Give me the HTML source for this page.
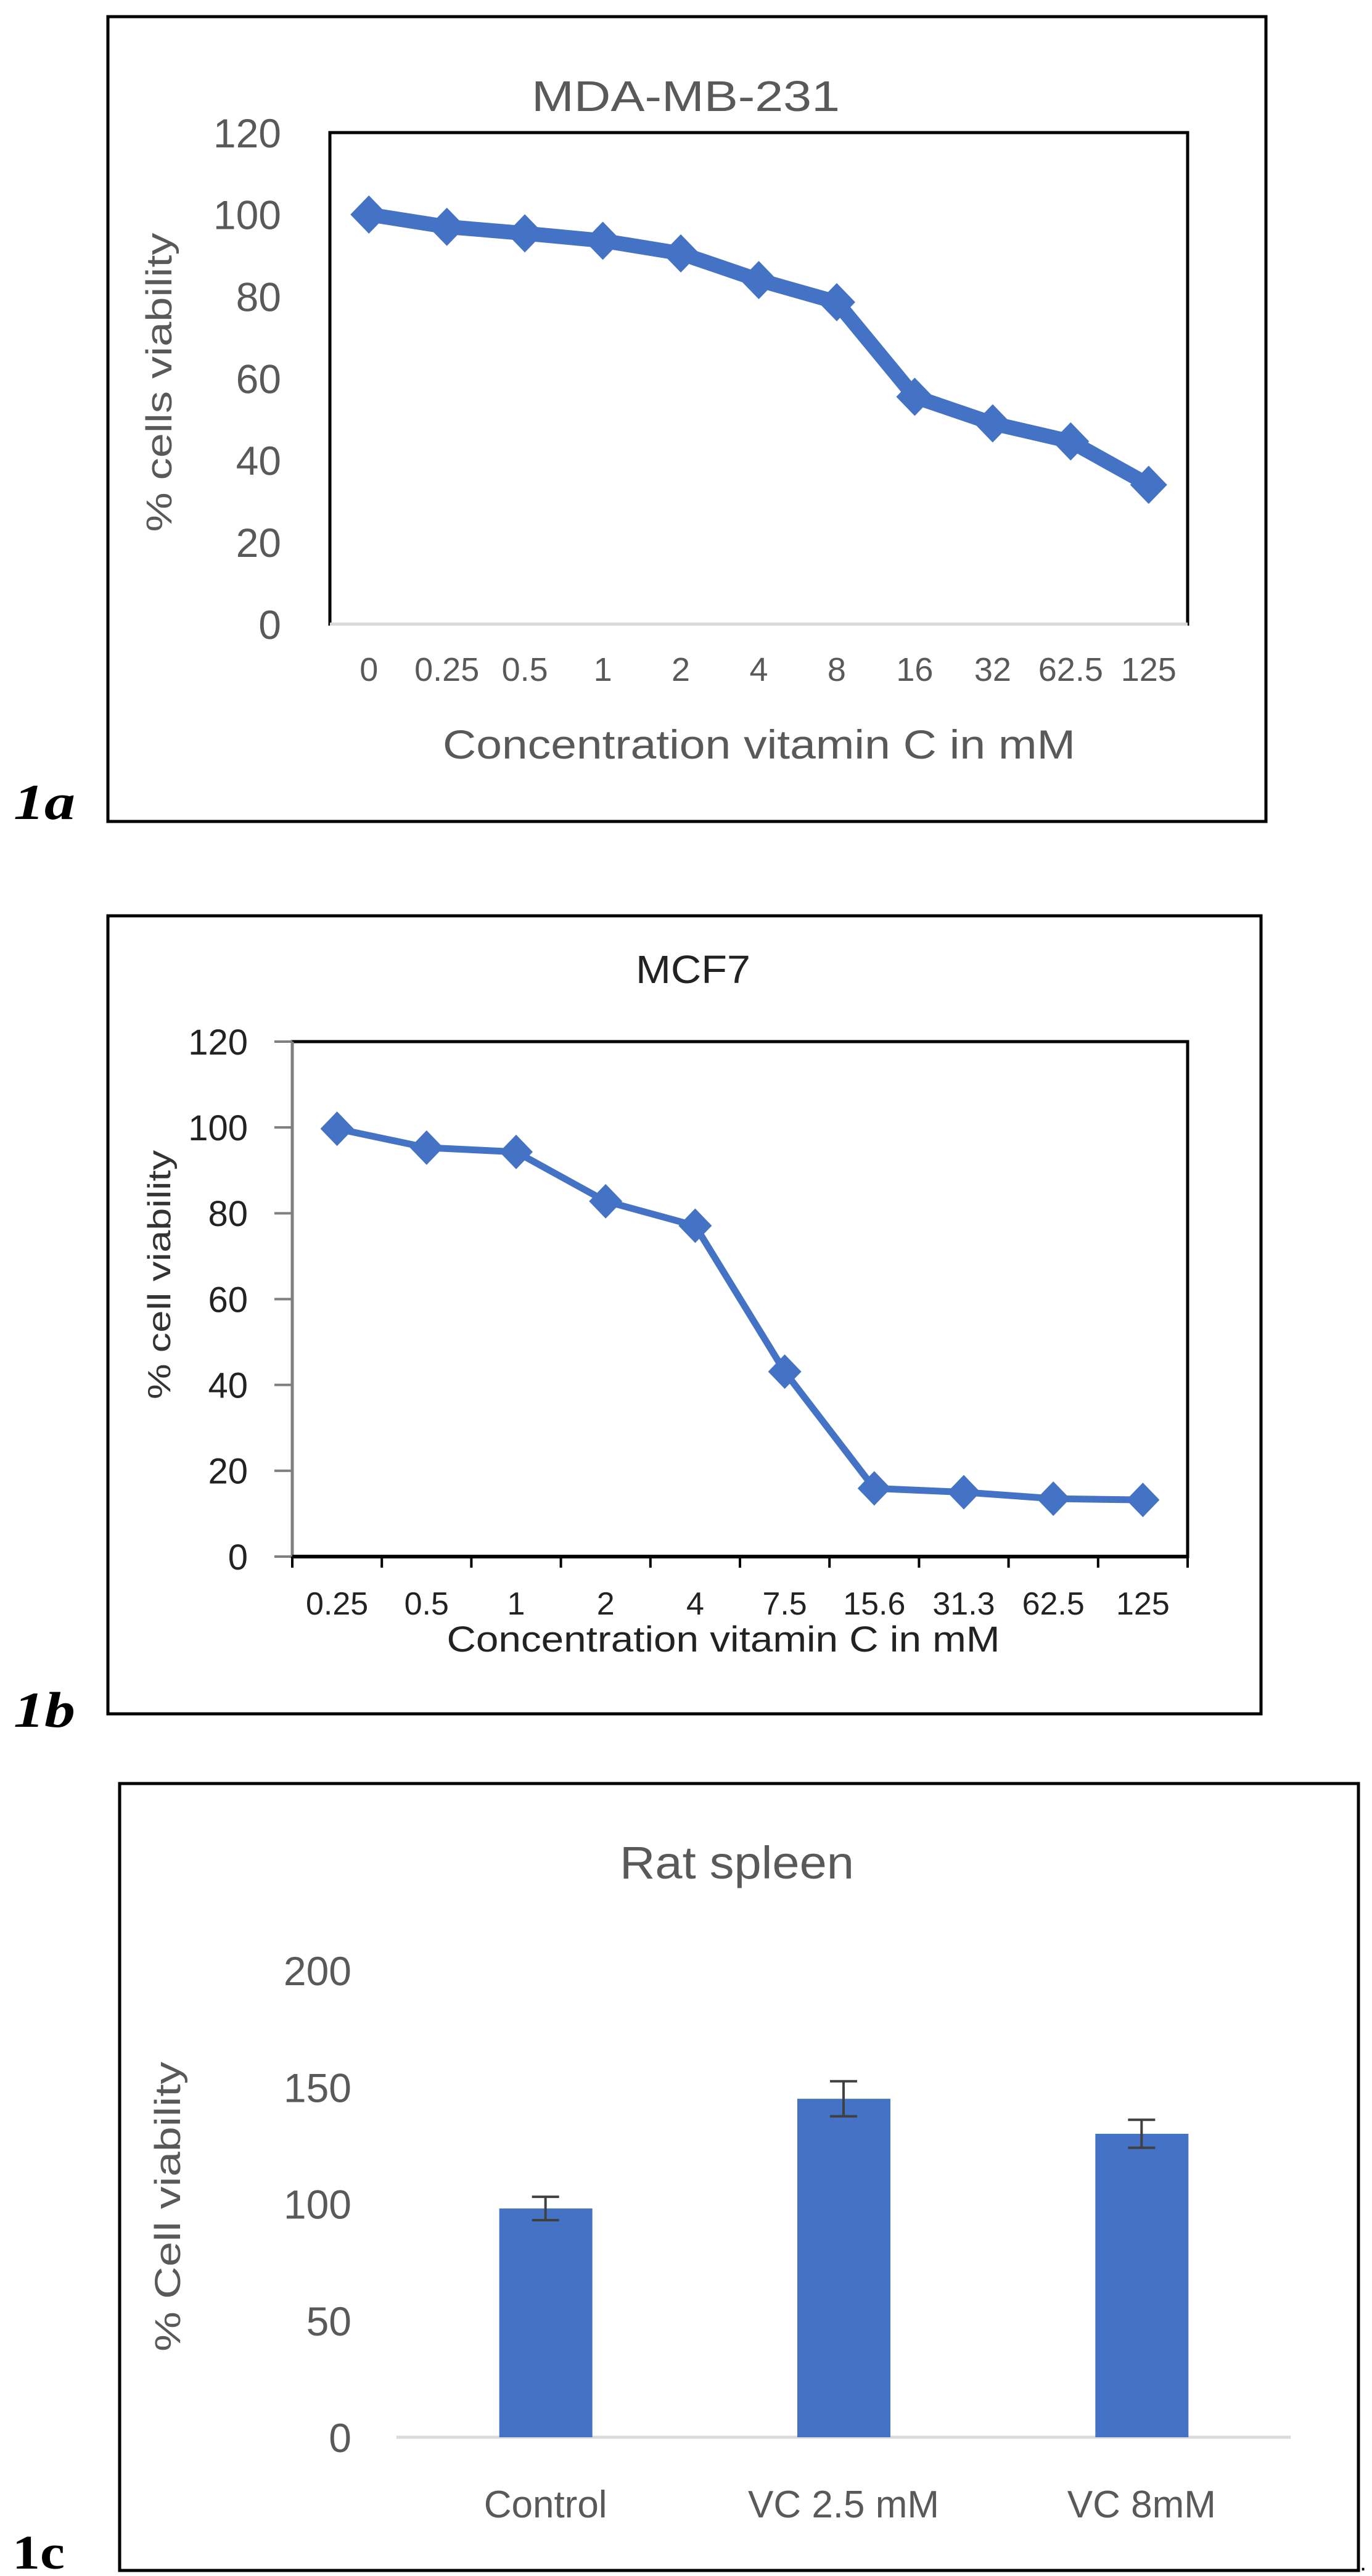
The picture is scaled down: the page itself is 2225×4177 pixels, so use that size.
<!DOCTYPE html>
<html><head><meta charset="utf-8"><style>
html,body{margin:0;padding:0;background:#fff;}
svg{display:block;}
text{font-family:"Liberation Sans",sans-serif;fill:#595959;}
</style></head><body>
<svg id="fig" width="2225" height="4177" viewBox="0 0 2225 4177" xmlns="http://www.w3.org/2000/svg">
<!-- panel 1a -->
<rect x="175" y="27" width="1878" height="1305" fill="none" stroke="#000" stroke-width="5"/>
<text x="1112" y="180" font-size="70" text-anchor="middle" textLength="500" lengthAdjust="spacingAndGlyphs">MDA-MB-231</text>
<rect x="535" y="215" width="1391" height="797" fill="none" stroke="#000" stroke-width="5"/>
<line x1="535" y1="1012" x2="1926" y2="1012" stroke="#d9d9d9" stroke-width="5"/>
<text transform="translate(278,620) rotate(-90)" font-size="58" text-anchor="middle" textLength="485" lengthAdjust="spacingAndGlyphs">% cells viability</text>
<text x="1231" y="1230" font-size="66" text-anchor="middle" textLength="1026" lengthAdjust="spacingAndGlyphs">Concentration vitamin C in mM</text>
<text x="22" y="1328" font-size="82" font-weight="bold" font-style="italic" textLength="100" lengthAdjust="spacingAndGlyphs" style="font-family:'Liberation Serif',serif;fill:#000">1a</text>
<g id="c1a"></g>
<!-- panel 1b -->
<rect x="175" y="1485" width="1870" height="1294" fill="none" stroke="#000" stroke-width="5"/>
<text x="1124" y="1594" font-size="64" text-anchor="middle" textLength="186" lengthAdjust="spacingAndGlyphs" style="fill:#222">MCF7</text>
<rect x="474" y="1689" width="1452" height="835" fill="none" stroke="#000" stroke-width="5"/>
<text transform="translate(276,2067) rotate(-90)" font-size="52" text-anchor="middle" textLength="404" lengthAdjust="spacingAndGlyphs" style="fill:#333">% cell viability</text>
<text x="1173" y="2678" font-size="58" text-anchor="middle" textLength="897" lengthAdjust="spacingAndGlyphs" style="fill:#222">Concentration vitamin C in mM</text>
<text x="22" y="2800" font-size="82" font-weight="bold" font-style="italic" textLength="100" lengthAdjust="spacingAndGlyphs" style="font-family:'Liberation Serif',serif;fill:#000">1b</text>
<g id="c1b"></g>
<!-- panel 1c -->
<rect x="194" y="2892" width="2009" height="1276" fill="none" stroke="#000" stroke-width="5"/>
<text x="1195" y="3046" font-size="74" text-anchor="middle" textLength="380" lengthAdjust="spacingAndGlyphs">Rat spleen</text>
<text transform="translate(292,3578) rotate(-90)" font-size="58" text-anchor="middle" textLength="470" lengthAdjust="spacingAndGlyphs">% Cell viability</text>
<line x1="643" y1="3952" x2="2093" y2="3952" stroke="#d9d9d9" stroke-width="5"/>
<text x="20" y="4165" font-size="78" font-weight="bold" textLength="85" lengthAdjust="spacingAndGlyphs" style="font-family:'Liberation Serif',serif;fill:#000">1c</text>
<text x="2205" y="4168" font-size="40" style="fill:#000">.</text>
<g id="c1c"></g>
</svg>
<script>
const catsA = ["0","0.25","0.5","1","2","4","8","16","32","62.5","125"];
const valsA = [100,97,95.4,93.6,90.5,84,78.6,55.5,49,44.6,34];
const ticksA = [0,20,40,60,80,100,120];
const catsB = ["0.25","0.5","1","2","4","7.5","15.6","31.3","62.5","125"];
const valsB = [99.7,95.3,94.3,82.8,77.1,43.1,15.9,15,13.5,13.2];
const ticksB = [0,20,40,60,80,100,120];
const catsC = ["Control","VC 2.5 mM","VC 8mM"];
const valsC = [98,145,130];
const errsC = [5,7.5,6];
const ticksC = [0,50,100,150,200];

const NS="http://www.w3.org/2000/svg";
function mk(parent,tag,attrs,txt){const e=document.createElementNS(NS,tag);for(const k in attrs)e.setAttribute(k,attrs[k]);if(txt!==undefined)e.textContent=txt;parent.appendChild(e);return e;}
function diamond(cx,cy,w,h){return `${cx},${cy-h/2} ${cx+w/2},${cy} ${cx},${cy+h/2} ${cx-w/2},${cy}`;}

function lineChart(g,cats,vals,ticks,o){
  const x=i=>o.x0+(i+0.5)*(o.x1-o.x0)/cats.length;
  const y=v=>o.y0-v/(ticks[ticks.length-1])*(o.y0-o.yTop);
  ticks.forEach(t=>{
    const tl=mk(g,'text',{x:o.tickRight,y:y(t)+o.tickFont*0.36,'font-size':o.tickFont,'text-anchor':'end',style:'fill:'+o.tickColor},String(t));
    
    
    if(o.yTicks){const tk=mk(g,'line',{x1:o.x0-29,x2:o.x0,y1:y(t),y2:y(t),stroke:'#7f7f7f','stroke-width':4});
      
      }
  });
  if(o.yTicks){const ax=mk(g,'line',{x1:o.x0,x2:o.x0,y1:o.yTop,y2:o.y0,stroke:'#7f7f7f','stroke-width':5});
    
    
    const bx=mk(g,'line',{x1:o.x0,x2:o.x1,y1:o.y0,y2:o.y0,stroke:'#000','stroke-width':6});
    
    
    for(let i=0;i<=cats.length;i++){const xx=o.x0+i*(o.x1-o.x0)/cats.length;
      const tk=mk(g,'line',{x1:xx,x2:xx,y1:o.y0,y2:o.y0+18,stroke:'#000','stroke-width':4});
      
      }
  }
  cats.forEach((c,i)=>{const t=mk(g,'text',{x:x(i),y:o.xLabY,'font-size':o.xFont,'text-anchor':'middle',style:'fill:'+o.tickColor},c);
    
    });
  const pts=vals.map((v,i)=>x(i)+','+y(v)).join(' ');
  const pl=mk(g,'polyline',{points:pts,fill:'none',stroke:'#4472c4','stroke-width':o.lw,'stroke-linejoin':'round'});
  
  
  vals.forEach((v,i)=>{const p=mk(g,'polygon',{points:diamond(x(i),y(v),o.mw,o.mh),fill:'#4472c4'});
    
    });
}
lineChart(document.getElementById('c1a'),catsA,valsA,ticksA,{x0:535,x1:1926,y0:1012,yTop:215,tickRight:456,tickFont:66,tickColor:'#595959',xLabY:1104,xFont:54,lw:24,mw:60,mh:62,yTicks:false});
lineChart(document.getElementById('c1b'),catsB,valsB,ticksB,{x0:474,x1:1926,y0:2524,yTop:1689,tickRight:402,tickFont:58,tickColor:'#222',xLabY:2618,xFont:52,lw:11,mw:54,mh:56,yTicks:true});

(function(){
  const g=document.getElementById('c1c');
  const x0=643,x1=2093,y0=3952,yTop=3195,max=200;
  const y=v=>y0-v/max*(y0-yTop);
  const cw=(x1-x0)/catsC.length;
  ticksC.forEach(t=>{const tl=mk(g,'text',{x:570,y:y(t)+24,'font-size':66,'text-anchor':'end'},String(t));
    
    });
  catsC.forEach((c,i)=>{
    const cx=x0+(i+0.5)*cw;
    const b=mk(g,'rect',{x:cx-75,y:y(valsC[i]),width:151,height:y0-y(valsC[i]),fill:'#4472c4'});
    
    
    const e=errsC[i];
    const eb=mk(g,'path',{d:`M${cx},${y(valsC[i]+e)}V${y(valsC[i]-e)}M${cx-22},${y(valsC[i]+e)}h44M${cx-22},${y(valsC[i]-e)}h44`,stroke:'#404040','stroke-width':4,fill:'none'});
    
    
    const t=mk(g,'text',{x:cx,y:4082,'font-size':62,'text-anchor':'middle'},c);
    
    
  });
})();
</script>
</body></html>
